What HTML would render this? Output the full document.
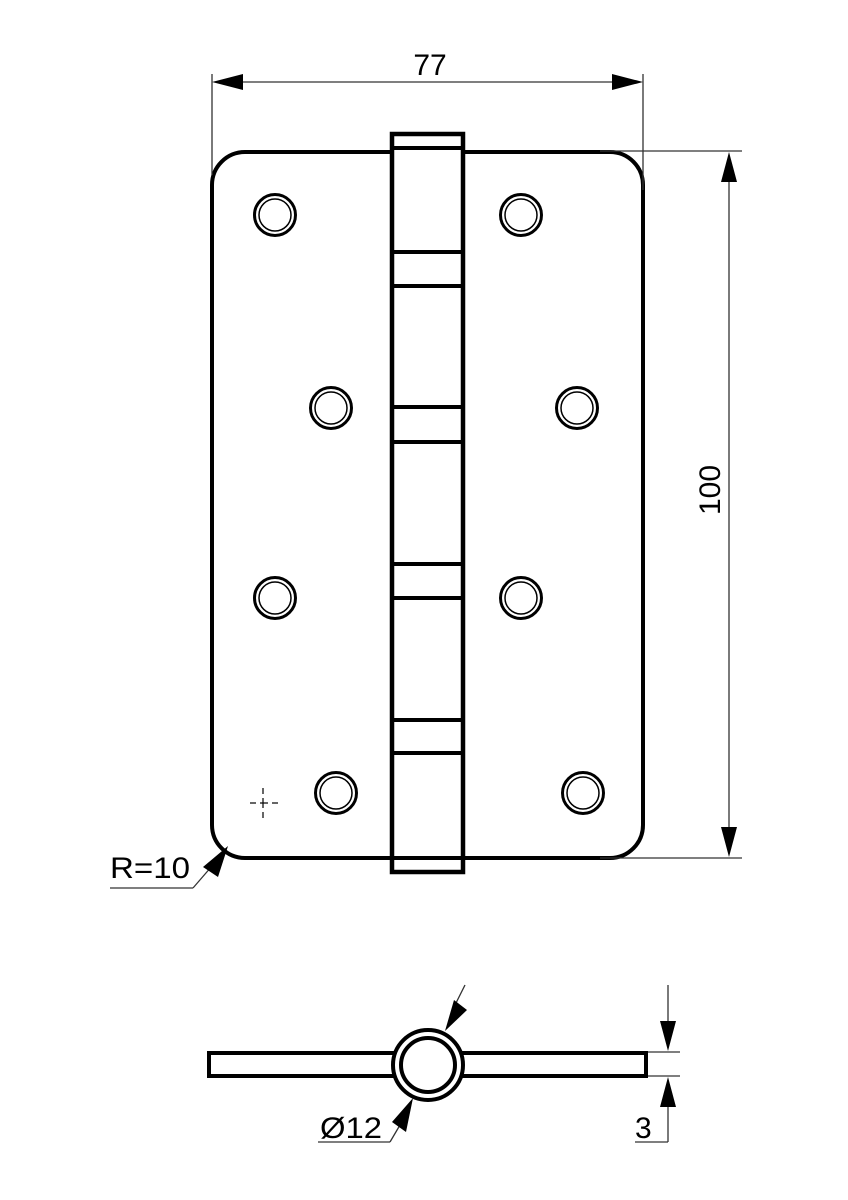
<!DOCTYPE html>
<html><head><meta charset="utf-8"><style>html,body{margin:0;padding:0;background:#fff}svg{display:block}</style></head>
<body>
<svg width="848" height="1200" viewBox="0 0 848 1200" xmlns="http://www.w3.org/2000/svg" font-family="'Liberation Sans', sans-serif">
<g fill="none" stroke="#000">
<path d="M245 152 H610 A33 33 0 0 1 643 185 V825 A33 33 0 0 1 610 858 H245 A33 33 0 0 1 212 825 V185 A33 33 0 0 1 245 152 Z" stroke-width="4"/>
<rect x="392" y="134" width="71" height="738" fill="#fff" stroke-width="4.5"/>
<g stroke-width="4">
<line x1="392" y1="148" x2="463" y2="148"/>
<line x1="392" y1="858" x2="463" y2="858"/>
<line x1="392" y1="252" x2="463" y2="252"/>
<line x1="392" y1="286" x2="463" y2="286"/>
<line x1="392" y1="407" x2="463" y2="407"/>
<line x1="392" y1="442" x2="463" y2="442"/>
<line x1="392" y1="564" x2="463" y2="564"/>
<line x1="392" y1="598" x2="463" y2="598"/>
<line x1="392" y1="720" x2="463" y2="720"/>
<line x1="392" y1="753" x2="463" y2="753"/>
</g>
<g>
<circle cx="275" cy="215" r="20.5" stroke-width="3"/><circle cx="275" cy="215" r="16" stroke-width="1.5"/>
<circle cx="521" cy="215" r="20.5" stroke-width="3"/><circle cx="521" cy="215" r="16" stroke-width="1.5"/>
<circle cx="331" cy="408" r="20.5" stroke-width="3"/><circle cx="331" cy="408" r="16" stroke-width="1.5"/>
<circle cx="577" cy="408" r="20.5" stroke-width="3"/><circle cx="577" cy="408" r="16" stroke-width="1.5"/>
<circle cx="275" cy="598" r="20.5" stroke-width="3"/><circle cx="275" cy="598" r="16" stroke-width="1.5"/>
<circle cx="521" cy="598" r="20.5" stroke-width="3"/><circle cx="521" cy="598" r="16" stroke-width="1.5"/>
<circle cx="336" cy="793" r="20.5" stroke-width="3"/><circle cx="336" cy="793" r="16" stroke-width="1.5"/>
<circle cx="583" cy="793" r="20.5" stroke-width="3"/><circle cx="583" cy="793" r="16" stroke-width="1.5"/>
</g>
<g stroke-width="1.2">
<line x1="250" y1="803" x2="256" y2="803"/><line x1="260" y1="803" x2="268" y2="803"/><line x1="272" y1="803" x2="278" y2="803"/>
<line x1="263" y1="788" x2="263" y2="794"/><line x1="263" y1="798" x2="263" y2="808"/><line x1="263" y1="812" x2="263" y2="818"/>
</g>
<g stroke-width="1.3" stroke="#333">
<line x1="212" y1="74" x2="212" y2="175"/>
<line x1="643" y1="74" x2="643" y2="190"/>
<line x1="240" y1="82" x2="615" y2="82"/>
<line x1="600" y1="151" x2="742" y2="151"/>
<line x1="600" y1="858" x2="742" y2="858"/>
<line x1="729" y1="180" x2="729" y2="830"/>
<line x1="110" y1="888" x2="193" y2="888"/>
<line x1="193" y1="888" x2="212" y2="866"/>
<line x1="318" y1="1142" x2="390" y2="1142"/>
<line x1="390" y1="1142" x2="400" y2="1125"/>
<line x1="465" y1="985" x2="455" y2="1005"/>
<line x1="648" y1="1052" x2="680" y2="1052"/>
<line x1="648" y1="1076" x2="680" y2="1076"/>
<line x1="668" y1="985" x2="668" y2="1025"/>
<line x1="668" y1="1105" x2="668" y2="1142"/>
<line x1="635" y1="1142" x2="668" y2="1142"/>
</g>
</g>
<g fill="#000">
<polygon points="212,82 243,74 243,90"/>
<polygon points="643,82 612,74 612,90"/>
<polygon points="729,152 721,182 737,182"/>
<polygon points="729,857 721,827 737,827"/>
<polygon points="228,846 203,867 218,877"/>
<polygon points="413,1098 392,1122 406,1132"/>
<polygon points="445,1031 454,1000 467,1010"/>
<polygon points="668,1051 660,1021 676,1021"/>
<polygon points="668,1077 660,1107 676,1107"/>
</g>
<g fill="none" stroke="#000" stroke-width="4">
<rect x="209" y="1053" width="437" height="23" fill="#fff"/>
<circle cx="428" cy="1065" r="35" fill="#fff"/>
<circle cx="428" cy="1065" r="27"/>
</g>
<g font-size="30" fill="#000">
<text x="430" y="75" text-anchor="middle">77</text>
<text x="110" y="878" textLength="80" lengthAdjust="spacingAndGlyphs">R=10</text>
<text x="320" y="1138" textLength="62" lengthAdjust="spacingAndGlyphs">Ø12</text>
<text x="635" y="1138">3</text>
<text transform="translate(720 490) rotate(-90)" text-anchor="middle">100</text>
</g>
</svg>
</body></html>
